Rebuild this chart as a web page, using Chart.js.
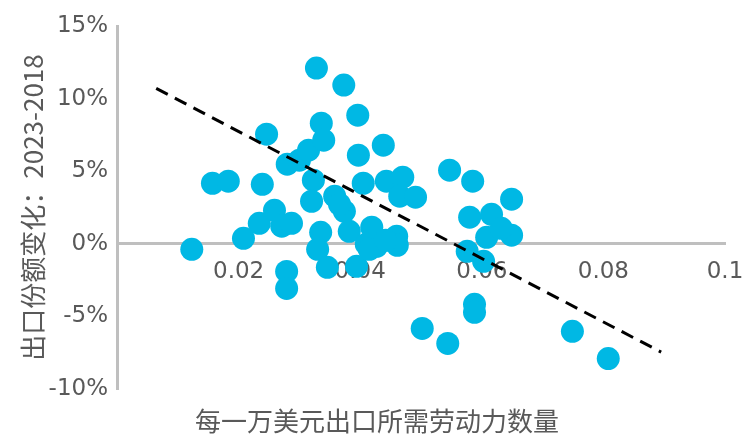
<!DOCTYPE html>
<html>
<head>
<meta charset="utf-8">
<script src="https://cdn.jsdelivr.net/npm/chart.js@4/dist/chart.umd.min.js"></script>
<style>
  html, body { margin: 0; padding: 0; background: #fff; }
  #wrap { width: 746px; height: 434px; }
</style>
</head>
<body>
<div id="wrap"><canvas id="scatter-chart" width="746" height="434"></canvas></div>
<script>
// labour needed per 10k USD of exports (x) vs change in export share 2018->2023, in % (y)
const laborPer10k = [
  0.0123, 0.0157, 0.0183, 0.0208, 0.0246, 0.0239, 0.0234, 0.0259, 0.0271, 0.0287,
  0.0279, 0.0279, 0.0280, 0.0300, 0.0315, 0.0323, 0.0320, 0.0328, 0.0373, 0.0396,
  0.0336, 0.0340, 0.0438, 0.0397, 0.0405, 0.0443, 0.0470, 0.0465, 0.0491, 0.0358,
  0.0374, 0.0366, 0.0335, 0.0382, 0.0419, 0.0460, 0.0410, 0.0427, 0.0330, 0.0461,
  0.0346, 0.0394, 0.0547, 0.0585, 0.0649, 0.0580, 0.0616, 0.0608, 0.0649, 0.0632,
  0.0576, 0.0603, 0.0588, 0.0588, 0.0502, 0.0544, 0.0749, 0.0808, 0.0415, 0.0442
]
const shareChange = [
  -0.38, 4.17, 4.31, 0.38, 7.55, 4.10, 1.41, 2.31, 1.21, 1.41,
  -1.90, -3.07, 5.48, 5.76, 6.45, 4.38, 2.93, 12.10, 10.93, 8.86,
  8.31, 7.14, 6.79, 6.10, 4.17, 4.31, 4.59, 3.28, 3.21, 3.28,
  2.24, 2.72, 0.79, 0.86, 1.14, 0.52, -0.03, -0.17, -0.38, -0.10,
  -1.62, -1.55, 5.07, 4.31, 3.07, 1.83, 2.03, 0.45, 0.59, 1.07,
  -0.52, -1.21, -4.17, -4.72, -5.83, -6.86, -6.03, -7.90, -0.38, 0.24
]

// linear trend, two end points
const trendX = [0.00645, 0.0895]
const trendY = [10.70, -7.46]

const xTicks = [0.02, 0.04, 0.06, 0.08, 0.1]

const grey = "#595959"
const axisGrey = "#BFBFBF"
const tickFont = { family: "DejaVu Sans", size: 23 }
const cjkFont = "'Noto Sans CJK SC', 'Noto Sans', sans-serif"

const points = laborPer10k.map((x, i) => ({ x, y: shareChange[i] }))
const trend = trendX.map((x, i) => ({ x, y: trendY[i] }))

const ctx = document.getElementById("scatter-chart")

const chart = new Chart(ctx, {
    type: "scatter",
    data: {
        datasets: [
            {
                label: "trend",
                data: trend,
                showLine: true,
                borderColor: "#000",
                borderWidth: 3,
                borderDash: [13, 8],
                pointRadius: 0
            },
            {
                label: "countries",
                data: points,
                backgroundColor: "#00B8E4",
                borderWidth: 0,
                pointRadius: 11.5
            }
        ]
    },
    options: {
        responsive: false,
        animation: false,
        layout: { autoPadding: false, padding: { left: 29, right: 21, top: 26, bottom: 0 } },
        plugins: {
            legend: { display: false },
            tooltip: { enabled: false },
            title: {
                display: true,
                text: "每一万美元出口所需劳动力数量",
                position: "bottom",
                color: grey,
                font: { family: cjkFont, size: 26, weight: "normal", lineHeight: 1 },
                padding: { top: 19, bottom: 0 }
            }
        },
        scales: {
            x: {
                type: "linear",
                min: 0,
                max: 0.1,
                position: { y: 0 },
                grid: { display: false, drawTicks: false },
                border: { display: true, color: axisGrey, width: 3 },
                afterBuildTicks: (scale) => {
                    scale.ticks = [0, ...xTicks].map(v => ({ value: v }))
                },
                // the last label may run to the canvas edge
                afterFit: (scale) => {
                    scale.paddingLeft = 0
                    scale.paddingRight = 0
                },
                ticks: {
                    padding: 14,
                    color: grey,
                    font: tickFont,
                    callback: (v) => v === 0 ? "" : String(+v.toFixed(2))
                }
            },
            y: {
                min: -10,
                max: 15,
                grid: { display: false, drawTicks: false },
                border: { display: true, color: axisGrey, width: 3 },
                ticks: {
                    stepSize: 5,
                    padding: 9,
                    color: grey,
                    font: tickFont,
                    callback: (v) => v + "%"
                },
                title: {
                    display: true,
                    text: "出口份额变化：2023-2018",
                    color: grey,
                    font: { family: cjkFont, size: 26, weight: "normal", lineHeight: 1.2 },
                    padding: { top: -11.6, bottom: 0 }
                },
                afterFit: (scale) => { scale.width = 88 }
            }
        }
    }
})
</script>
</body>
</html>
